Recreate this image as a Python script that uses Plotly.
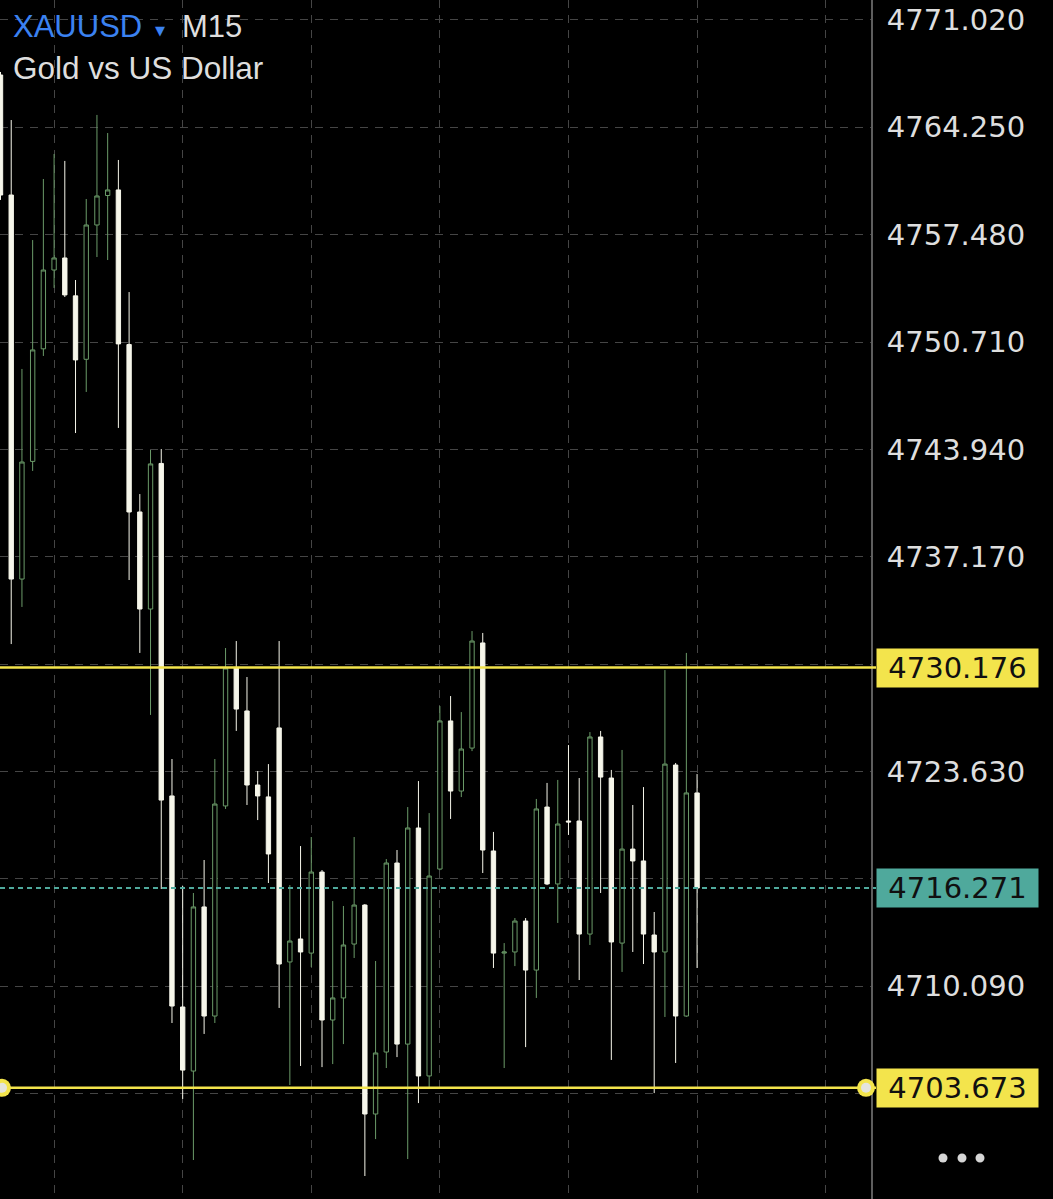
import plotly.graph_objects as go

# XAUUSD M15 bars, oldest -> newest (index of bar on screen)
bar_index = list(range(66))

opens = [4767.55, 4759.98, 4735.76, 4743.18, 4750.28, 4755.25, 4756.01, 4753.62, 4749.62, 4758.09,
         4759.95, 4760.30, 4750.55, 4739.99, 4733.87, 4743.05, 4722.08, 4708.77, 4704.73, 4715.08,
         4708.20, 4721.45, 4730.15, 4727.44, 4722.77, 4722.02, 4726.37, 4711.61, 4713.06, 4712.17,
         4717.28, 4707.95, 4709.34, 4712.74, 4715.20, 4702.02, 4705.93, 4717.85, 4706.43, 4720.06,
         4704.42, 4717.47, 4726.81, 4722.39, 4725.10, 4731.73, 4718.61, 4712.17, 4712.24, 4714.19,
         4711.10, 4721.38, 4716.53, 4720.50, 4720.50, 4713.37, 4725.80, 4723.21, 4712.80, 4718.73,
         4717.98, 4713.31, 4712.24, 4724.03, 4708.20, 4722.27]
highs = [4767.74, 4764.71, 4749.01, 4757.14, 4760.99, 4762.57, 4762.13, 4754.62, 4759.73, 4765.03,
         4763.89, 4762.19, 4753.86, 4741.12, 4743.90, 4743.96, 4724.41, 4716.40, 4715.96, 4718.04,
         4724.41, 4731.41, 4731.85, 4729.58, 4723.65, 4724.09, 4731.85, 4716.46, 4718.92, 4719.49,
         4717.41, 4715.45, 4715.14, 4719.49, 4715.26, 4711.67, 4718.10, 4718.67, 4721.38, 4723.02,
         4721.00, 4727.75, 4728.38, 4727.37, 4732.48, 4732.36, 4719.81, 4712.80, 4714.38, 4714.38,
         4721.89, 4722.90, 4723.09, 4725.29, 4723.21, 4726.11, 4726.18, 4723.72, 4724.98, 4721.51,
         4722.64, 4714.76, 4730.02, 4724.16, 4731.10, 4723.46]
lows = [4759.67, 4731.66, 4734.00, 4742.58, 4749.83, 4754.12, 4753.55, 4744.97, 4747.56, 4756.07,
        4755.88, 4745.29, 4735.70, 4731.10, 4727.19, 4716.21, 4707.76, 4702.97, 4699.12, 4707.07,
        4707.76, 4721.26, 4726.18, 4721.51, 4720.56, 4716.59, 4708.71, 4703.85, 4705.05, 4711.29,
        4704.98, 4705.17, 4706.43, 4711.86, 4698.11, 4700.44, 4704.92, 4705.61, 4699.18, 4702.71,
        4703.66, 4717.40, 4720.63, 4722.01, 4724.91, 4717.22, 4711.23, 4704.92, 4711.35, 4706.24,
        4709.34, 4716.46, 4714.07, 4719.62, 4710.47, 4712.68, 4715.96, 4705.43, 4710.98, 4712.24,
        4711.48, 4703.34, 4708.14, 4705.24, 4708.15, 4711.23]
closes = [4759.98, 4735.76, 4743.14, 4750.21, 4755.25, 4756.01, 4753.68, 4749.58, 4758.09, 4759.92,
          4760.30, 4750.59, 4739.99, 4733.87, 4743.02, 4721.82, 4708.83, 4704.79, 4715.08, 4708.20,
          4721.57, 4730.15, 4727.56, 4722.77, 4722.08, 4718.42, 4711.48, 4712.93, 4712.24, 4717.28,
          4707.95, 4709.34, 4712.68, 4715.20, 4702.02, 4705.87, 4717.85, 4706.43, 4720.06, 4704.42,
          4717.03, 4726.81, 4722.39, 4725.04, 4731.85, 4718.67, 4712.17, 4712.24, 4714.19, 4711.10,
          4721.26, 4716.53, 4720.31, 4720.44, 4713.37, 4725.80, 4723.27, 4712.87, 4718.73, 4717.98,
          4713.37, 4712.24, 4724.09, 4708.20, 4722.27, 4716.271]

price_ticks = [4771.020, 4764.250, 4757.480, 4750.710, 4743.940, 4737.170,
               4730.400, 4723.630, 4716.860, 4710.090, 4703.320]
time_grid = [5, 17, 29, 41, 53, 65, 77]  # every 12 bars (3h)

level_high = 4730.176
level_low = 4703.673
last_price = 4716.271

symbol = "XAUUSD"
timeframe = "M15"
description = "Gold vs US Dollar"

# colours
BG = "#000000"
GRID = "#454545"
BULL = "#6b9b69"
BEAR = "#f6f6ea"
YELLOW = "#f3e44c"
TEAL = "#4fa99c"
BLUE = "#3b82f1"
TEXT = "#dedede"

PLOT_W, PLOT_H = 871, 1199


def px_x(px):
    return px / PLOT_W


def px_y(py):
    return 1 - py / PLOT_H


# tick labels sitting under a price box are covered in the app, so leave them blank
covered = [level_high, last_price, level_low]
tick_text = ["" if any(abs(p - c) < 1.0 for c in covered) else f"{p:.3f}" for p in price_ticks]

fig = go.Figure()

fig.add_trace(go.Candlestick(
    x=bar_index, open=opens, high=highs, low=lows, close=closes,
    increasing=dict(line=dict(color=BULL, width=1), fillcolor=BG),
    decreasing=dict(line=dict(color=BEAR, width=1), fillcolor=BEAR),
    whiskerwidth=0, showlegend=False, hoverinfo="skip",
))

# horizontal levels
fig.add_shape(type="line", xref="paper", yref="y", x0=0, x1=px_x(876), y0=level_high, y1=level_high,
              line=dict(color=YELLOW, width=2.5), layer="above")
fig.add_shape(type="line", xref="paper", yref="y", x0=0, x1=px_x(876), y0=level_low, y1=level_low,
              line=dict(color=YELLOW, width=2.5), layer="above")
fig.add_shape(type="line", xref="paper", yref="y", x0=0, x1=px_x(876), y0=last_price, y1=last_price,
              line=dict(color=TEAL, width=2, dash="5px,4px"), layer="above")

# drag handles on the lower level
for hx in [2, 866]:
    fig.add_shape(type="circle", xref="paper", yref="y", xsizemode="pixel", ysizemode="pixel",
                  xanchor=px_x(hx), yanchor=level_low, x0=-9, x1=9, y0=-9, y1=9,
                  fillcolor=YELLOW, line=dict(width=0), layer="above")
    fig.add_shape(type="circle", xref="paper", yref="y", xsizemode="pixel", ysizemode="pixel",
                  xanchor=px_x(hx), yanchor=level_low, x0=-5, x1=5, y0=-5, y1=5,
                  fillcolor="#e4e4dc", line=dict(width=0), layer="above")

# "..." menu dots
for dx in [943, 962, 980]:
    fig.add_shape(type="circle", xref="paper", yref="paper", xsizemode="pixel", ysizemode="pixel",
                  xanchor=px_x(dx), yanchor=px_y(1158), x0=-4.5, x1=4.5, y0=-4.5, y1=4.5,
                  fillcolor="#d6d6d6", line=dict(width=0))

# price boxes on the axis
for price, color in [(level_high, YELLOW), (last_price, TEAL), (level_low, YELLOW)]:
    fig.add_annotation(
        xref="paper", yref="y", x=px_x(876), y=price, xanchor="left", yanchor="middle",
        text=f"{price:.3f}", showarrow=False, bgcolor=color, width=157, height=34, borderpad=2,
        align="center", font=dict(family="DejaVu Sans", size=29, color="#101010"),
    )

# symbol header
fig.add_annotation(xref="paper", yref="paper", x=px_x(11), y=px_y(27), xanchor="left", yanchor="middle",
                   text=symbol, showarrow=False, font=dict(family="Liberation Sans", size=31, color=BLUE))
fig.add_annotation(xref="paper", yref="paper", x=px_x(153), y=px_y(30), xanchor="left", yanchor="middle",
                   text="▼", showarrow=False, font=dict(family="DejaVu Sans", size=13, color=BLUE))
fig.add_annotation(xref="paper", yref="paper", x=px_x(180), y=px_y(27), xanchor="left", yanchor="middle",
                   text=timeframe, showarrow=False, font=dict(family="Liberation Sans", size=31, color=TEXT))
fig.add_annotation(xref="paper", yref="paper", x=px_x(11), y=px_y(68), xanchor="left", yanchor="middle",
                   text=description, showarrow=False, font=dict(family="Liberation Sans", size=31.5, color=TEXT))

fig.update_layout(
    width=1053, height=1199,
    margin=dict(l=0, r=182, t=0, b=0),
    paper_bgcolor=BG, plot_bgcolor=BG,
    boxgap=0.42,
    xaxis=dict(
        range=[-0.047, 81.23], rangeslider=dict(visible=False),
        tickvals=time_grid, showticklabels=False, ticks="",
        showgrid=True, gridcolor=GRID, griddash="8px,7px", gridwidth=1,
        zeroline=False, side="top", showline=True, linecolor="#3a3a3a", linewidth=1,
    ),
    yaxis=dict(
        side="right", range=[4696.66, 4772.28],
        tickvals=price_ticks, ticktext=tick_text,
        tickfont=dict(family="DejaVu Sans", size=29, color=TEXT),
        ticks="", ticklabelstandoff=8,
        showgrid=True, gridcolor=GRID, griddash="8px,7px", gridwidth=1,
        zeroline=False, showline=True, linecolor="#5e5e5e", linewidth=2,
    ),
)

# the page has a default body margin; drop it so the chart fills the window like the app screen
fig.write_html("out.html", config={"displayModeBar": False},
               post_script="document.body.style.margin='0';")
